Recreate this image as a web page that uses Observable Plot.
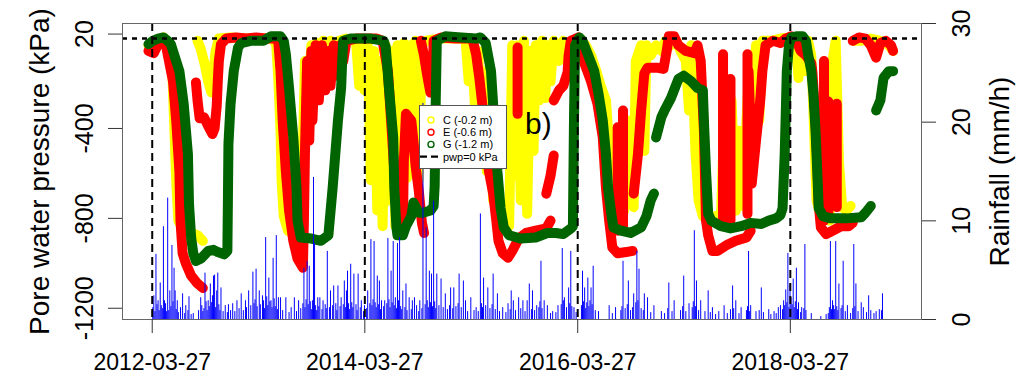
<!DOCTYPE html>
<html><head><meta charset="utf-8">
<script src="https://cdn.jsdelivr.net/npm/d3@7"></script>
<script src="https://cdn.jsdelivr.net/npm/@observablehq/plot@0.6"></script>
<style>
html,body{margin:0;padding:0;background:#fff;}
#chart{position:relative;width:1021px;height:375px;}
</style></head><body><div id="chart"></div>
<script>
// decimal year, kPa ; null = gap in record
const seriesC = [
[2012.20,-30],[2012.27,-10],[2012.34,5],[2012.39,-20],[2012.42,-100],[2012.44,-365],[2012.46,-630],[2012.48,-810],[2012.53,-855],[2012.60,-865],[2012.66,-875],[2012.71,-900],null,
[2012.66,-10],[2012.69,-45],[2012.73,-120],[2012.76,-190],[2012.79,-240],[2012.80,-190],[2012.83,-55],[2012.86,0],[2012.97,5],[2013.12,0],[2013.26,0],[2013.37,0],
[2013.40,-30],[2013.42,-190],[2013.44,-410],[2013.45,-630],[2013.47,-790],[2013.51,-855],[2013.59,-875],[2013.63,-875],
[2013.65,-500],[2013.67,-100],[2013.70,-255],[2013.73,-30],[2013.75,-265],[2013.78,-20],[2013.81,-230],[2013.84,-10],[2013.88,-145],[2013.91,-10],[2013.95,-100],[2013.99,-10],[2014.06,0],
[2014.15,-10],[2014.18,-210],[2014.21,-20],[2014.23,-230],[2014.26,-30],[2014.29,-630],[2014.32,-55],[2014.35,-765],[2014.38,-100],[2014.40,-835],[2014.43,-30],[2014.46,-720],[2014.49,-55],[2014.52,-835],[2014.54,-30],[2014.57,-590],[2014.60,-20],[2014.63,-620],[2014.66,-30],[2014.69,-545],[2014.71,-10],[2014.74,-630],[2014.77,-30],[2014.81,-10],
[2014.95,0],[2015.09,0],[2015.18,0],[2015.21,-190],[2015.24,-20],[2015.27,-320],[2015.30,-55],[2015.32,-365],[2015.35,-145],[2015.38,-590],[2015.41,-320],[2015.44,-720],[2015.47,-545],[2015.49,-790],[2015.53,-820],[2015.59,-835],
[2015.62,-30],[2015.64,-610],[2015.67,-30],[2015.70,-720],[2015.73,-10],[2015.76,-780],[2015.79,-55],[2015.82,-500],[2015.84,-30],[2015.87,-275],[2015.90,-10],[2015.93,-265],[2015.95,-30],[2015.98,-190],[2016.01,-10],[2016.06,-100],[2016.10,-10],[2016.15,-75],[2016.20,-10],[2016.26,0],
[2016.31,-30],[2016.36,-75],[2016.41,-145],[2016.45,-210],[2016.50,-275],[2016.52,-410],[2016.54,-590],[2016.56,-745],[2016.61,-765],[2016.64,-410],[2016.67,-765],[2016.71,-365],[2016.73,-720],[2016.76,-750],
[2016.78,-100],[2016.83,-30],[2016.86,-500],[2016.88,-30],[2016.92,-75],[2016.97,-30],[2017.02,-55],[2017.06,-10],[2017.11,-30],[2017.16,-10],[2017.20,-55],[2017.25,-100],[2017.28,-320],[2017.30,-30],
[2017.32,-230],[2017.34,-500],[2017.37,-720],[2017.41,-790],[2017.47,-810],[2017.53,-790],[2017.58,-800],[2017.62,-230],[2017.65,-790],[2017.68,-275],[2017.72,-765],[2017.75,-410],[2017.79,-745],[2017.82,-365],[2017.85,-100],[2017.88,-320],[2017.91,-30],[2017.94,-365],[2017.97,-10],
[2018.05,-10],[2018.14,0],[2018.24,5],[2018.29,-30],[2018.31,-175],[2018.34,-30],[2018.37,-145],[2018.40,-10],[2018.43,-75],[2018.45,-320],[2018.48,-720],[2018.52,-790],[2018.56,-545],[2018.60,-810],[2018.63,-100],[2018.66,-10],[2018.69,-545],[2018.72,-750],[2018.76,-765],[2018.80,-745],null,
[2018.83,-10],[2018.90,-10],[2018.99,0],[2019.08,-10],[2019.16,-30],[2019.20,-55]
];
const seriesE = [
[2012.20,-55],[2012.25,-65],[2012.29,-25],[2012.34,0],[2012.36,-20],[2012.38,-70],[2012.43,-190],[2012.46,-365],[2012.49,-590],[2012.50,-810],[2012.52,-955],[2012.55,-1000],[2012.60,-1055],[2012.66,-1090],[2012.71,-1110],null,
[2012.645,-195],[2012.66,-275],[2012.68,-355],[2012.72,-350],[2012.76,-390],[2012.80,-425],[2012.82,-400],[2012.84,-300],[2012.85,-190],[2012.86,-100],[2012.88,-25],[2012.93,0],[2013.02,5],[2013.12,0],[2013.21,5],[2013.30,0],[2013.40,0],
[2013.42,-20],[2013.44,-145],[2013.46,-365],[2013.49,-590],[2013.52,-765],[2013.56,-900],[2013.60,-980],[2013.65,-1020],[2013.66,-810],[2013.67,-500],[2013.69,-100],[2013.71,-455],[2013.73,-55],[2013.74,-365],[2013.77,-30],[2013.80,-275],[2013.83,-30],[2013.86,-230],[2013.89,-55],[2013.91,-210],[2013.94,-30],[2013.97,-165],[2014.00,-30],[2014.03,-100],[2014.06,-10],
[2014.15,0],[2014.24,0],[2014.34,0],[2014.40,-10],[2014.45,-145],[2014.48,-365],[2014.51,-590],[2014.54,-755],[2014.57,-855],[2014.59,-865],[2014.60,-545],[2014.62,-335],[2014.67,-365],[2014.69,-455],[2014.71,-565],[2014.74,-675],[2014.77,-820],[2014.79,-865],null,
[2014.76,-10],[2014.79,-75],[2014.82,-165],[2014.85,-240],[2014.87,-225],[2014.88,-10],[2014.95,5],[2015.09,0],[2015.23,0],[2015.25,-10],[2015.28,-70],[2015.31,-175],[2015.34,-300],[2015.37,-440],[2015.40,-590],[2015.44,-690],[2015.47,-810],[2015.49,-900],[2015.53,-955],[2015.58,-975],[2015.62,-945],[2015.68,-890],[2015.75,-865],[2015.84,-855],[2015.94,-845],[2015.98,-810],null,
[2015.94,-690],[2015.98,-610],[2016.01,-520],null,
[2016.01,-275],[2016.06,-230],[2016.10,-210],[2016.14,-150],[2016.15,-75],[2016.17,-10],[2016.24,5],[2016.26,-10],[2016.29,-100],[2016.36,-190],[2016.42,-290],[2016.47,-440],[2016.50,-665],[2016.53,-810],[2016.56,-930],[2016.61,-955],[2016.69,-950],[2016.75,-945],null,
[2016.76,-690],[2016.80,-515],[2016.83,-320],[2016.86,-155],[2016.89,-130],[2016.99,-130],[2017.04,-135],[2017.07,-55],[2017.09,10],[2017.14,10],[2017.18,-30],[2017.25,-55],[2017.33,-65],[2017.36,-30],[2017.39,-100],[2017.42,-410],[2017.44,-810],[2017.46,-875],[2017.50,-945],[2017.55,-945],[2017.63,-920],[2017.72,-900],[2017.82,-885],[2017.86,-855],null,
[2017.84,-145],[2017.86,-410],[2017.87,-645],[2017.91,-455],[2017.95,-275],[2017.97,-145],[2018.00,-30],[2018.07,-10],[2018.14,-20],[2018.19,0],[2018.24,10],[2018.29,-10],[2018.33,-55],[2018.38,-75],[2018.43,-110],[2018.44,-145],[2018.47,-365],[2018.49,-590],[2018.50,-735],[2018.52,-840],[2018.57,-870],[2018.63,-855],[2018.71,-835],[2018.78,-835],[2018.82,-820],null,
[2018.82,-10],[2018.88,5],[2018.94,0],[2018.99,-30],[2019.04,-85],[2019.08,-20],[2019.13,-10],[2019.18,-30],[2019.20,-55],null,
[2015.67,-40],[2015.67,-335],null,[2016.61,-395],[2016.61,-855],null,[2016.66,-320],[2016.66,-855],null,
[2017.60,-70],[2017.60,-810],null,[2017.67,-180],[2017.67,-810],null,[2017.83,-70],[2017.83,-780],null,
[2018.55,-100],[2018.55,-810],null,[2018.59,-280],[2018.59,-790],null,[2018.67,-290],[2018.67,-750]
];
const seriesG = [
[2012.20,-25],[2012.24,-10],[2012.29,0],[2012.34,5],[2012.38,-10],[2012.41,-25],[2012.49,-145],[2012.53,-290],[2012.57,-515],[2012.58,-735],[2012.60,-885],[2012.62,-955],[2012.645,-990],[2012.69,-980],[2012.76,-945],[2012.81,-940],[2012.85,-950],[2012.91,-960],[2012.94,-945],
[2012.945,-720],[2012.95,-470],[2012.97,-290],[2013.00,-145],[2013.04,-40],[2013.07,-20],[2013.16,-10],[2013.28,-10],[2013.35,10],[2013.44,10],[2013.47,-10],[2013.49,-70],[2013.52,-220],[2013.56,-440],[2013.59,-665],[2013.60,-810],[2013.63,-885],[2013.73,-890],[2013.82,-900],[2013.89,-875],
[2013.93,-665],[2013.98,-365],[2014.01,-220],[2014.02,-100],[2014.03,-10],[2014.10,0],[2014.20,0],[2014.29,0],[2014.41,-10],[2014.43,-40],[2014.46,-220],[2014.50,-440],[2014.51,-665],[2014.53,-840],[2014.54,-875],[2014.59,-875],[2014.62,-835],[2014.67,-790],[2014.69,-730],[2014.74,-775],[2014.78,-775],[2014.85,-765],[2014.88,-745],
[2014.89,-655],[2014.90,-275],[2014.91,-10],[2014.99,10],[2015.14,5],[2015.28,0],[2015.32,5],[2015.37,-20],[2015.42,-145],[2015.45,-365],[2015.48,-590],[2015.51,-755],[2015.54,-840],[2015.59,-875],[2015.70,-890],[2015.84,-885],[2015.95,-865],[2016.03,-865],[2016.10,-870],[2016.17,-845],[2016.19,-835],
[2016.20,-365],[2016.21,-30],[2016.25,5],[2016.28,-10],[2016.33,-70],[2016.39,-145],[2016.43,-245],[2016.47,-365],[2016.50,-515],[2016.52,-665],[2016.55,-780],[2016.57,-840],[2016.64,-855],[2016.73,-865],[2016.83,-840],[2016.88,-790],[2016.92,-720],[2016.95,-690],null,
[2016.97,-440],[2017.02,-350],[2017.06,-310],[2017.11,-265],[2017.18,-180],[2017.23,-165],[2017.30,-190],[2017.36,-220],[2017.41,-230],[2017.42,-365],[2017.44,-590],[2017.46,-780],[2017.49,-810],[2017.58,-835],[2017.67,-845],[2017.77,-835],[2017.86,-820],[2017.96,-825],[2018.03,-810],[2018.10,-800],[2018.14,-785],[2018.16,-755],
[2018.18,-515],[2018.19,-335],[2018.20,-145],[2018.22,-30],[2018.24,5],[2018.29,10],[2018.35,10],[2018.38,-10],[2018.40,-70],[2018.43,-145],[2018.45,-245],[2018.47,-410],[2018.49,-635],[2018.50,-755],[2018.54,-790],[2018.61,-800],[2018.76,-800],[2018.90,-795],[2018.94,-775],[2018.99,-745],null,
[2019.04,-320],[2019.08,-275],[2019.11,-175],[2019.16,-145],[2019.20,-145]
];
// decimal year, rainfall mm/h (peaks)
const rainfall = [
[2012.25,2.4],[2012.27,6.6],[2012.29,1.9],[2012.31,3.7],[2012.32,1.4],[2012.34,9.4],[2012.35,1.9],[2012.37,0.8],[2012.38,12.3],[2012.40,2.9],[2012.42,7.5],[2012.44,5.2],[2012.45,2.9],[2012.47,1.9],
[2012.52,2.6],[2012.55,1.4],[2012.58,2.3],[2012.62,0.6],[2012.69,2.2],[2012.71,0.8],[2012.73,4.7],[2012.76,1.9],[2012.78,3.6],[2012.80,2.4],[2012.81,4.4],[2012.82,4.5],[2012.84,2.9],[2012.85,4.7],[2012.88,3.2],[2012.92,1.4],[2012.95,1.5],[2012.99,1.6],
[2013.03,1.9],[2013.07,2.6],[2013.11,1.9],[2013.14,2.9],[2013.18,4.8],[2013.21,5.1],[2013.24,2.9],[2013.27,2.4],[2013.30,8.3],[2013.33,4.2],[2013.35,1.9],[2013.37,6.2],[2013.40,8.5],[2013.42,2.2],[2013.44,2.2],[2013.49,2.2],[2013.54,1.2],[2013.57,2.2],[2013.61,1.9],
[2013.66,5.2],[2013.69,5.9],[2013.71,5.4],[2013.74,1.9],[2013.75,14.4],[2013.76,7.7],[2013.79,2.2],[2013.81,2.2],[2013.84,1.9],[2013.88,6.9],[2013.91,2.9],[2013.94,3.4],[2013.98,3.4],
[2014.01,2.2],[2014.04,3.9],[2014.06,2.9],[2014.07,4.9],[2014.10,5.6],[2014.13,4.6],[2014.17,4.6],[2014.20,1.9],[2014.23,1.4],[2014.26,2.9],[2014.29,8.1],[2014.32,7.9],[2014.35,4.4],[2014.37,3.9],[2014.39,1.9],[2014.42,1.9],[2014.45,8.2],[2014.48,4.9],[2014.50,7.9],[2014.52,2.2],[2014.54,7.7],[2014.56,8.3],
[2014.59,2.9],[2014.62,3.6],[2014.65,2.2],[2014.68,1.9],[2014.70,2.2],[2014.72,1.4],[2014.75,1.9],[2014.78,21.9],[2014.81,9.3],[2014.84,4.9],[2014.86,4.6],[2014.88,12.0],[2014.91,4.6],[2014.95,4.1],[2014.99,2.6],
[2015.04,3.2],[2015.07,3.2],[2015.12,4.6],[2015.16,3.9],[2015.18,1.9],[2015.23,2.2],[2015.28,1.2],[2015.32,10.7],[2015.35,4.2],[2015.39,3.2],[2015.44,4.6],[2015.48,2.6],[2015.53,1.2],[2015.58,1.6],[2015.61,2.9],[2015.63,1.9],[2015.68,2.2],[2015.72,1.9],[2015.76,1.9],[2015.78,3.6],[2015.81,2.9],[2015.85,1.4],[2015.89,5.9],[2015.92,1.9],[2015.95,1.4],
[2016.00,0.8],[2016.05,1.4],[2016.09,7.2],[2016.11,2.2],[2016.15,3.2],[2016.17,6.9],[2016.20,1.2],[2016.28,4.9],[2016.30,3.2],[2016.33,4.2],[2016.36,3.2],[2016.38,5.4],[2016.43,0.8],[2016.53,1.4],[2016.59,1.2],[2016.66,5.9],[2016.71,3.9],[2016.76,2.6],[2016.79,6.9],[2016.81,5.1],[2016.86,2.6],[2016.89,2.2],[2016.95,1.4],
[2017.02,0.8],[2017.09,3.7],[2017.14,1.9],[2017.23,4.4],[2017.28,1.6],[2017.33,9.0],[2017.35,3.9],[2017.39,1.9],[2017.46,2.9],[2017.50,1.2],[2017.56,0.8],[2017.61,1.4],[2017.67,1.0],[2017.69,3.4],[2017.72,1.9],[2017.77,1.2],[2017.84,6.9],[2017.86,1.4],[2017.91,0.8],[2017.96,3.2],
[2018.03,1.0],[2018.08,0.8],[2018.12,1.2],[2018.14,1.4],[2018.17,1.9],[2018.19,3.0],[2018.21,6.7],[2018.23,3.6],[2018.24,2.2],[2018.26,4.1],[2018.29,5.2],[2018.31,1.7],[2018.34,1.2],[2018.37,7.6],[2018.43,0.6],[2018.52,0.3],[2018.57,0.5],
[2018.61,7.9],[2018.63,1.9],[2018.66,7.9],[2018.69,3.6],[2018.73,5.9],[2018.77,1.4],[2018.83,7.6],[2018.85,3.6],[2018.90,1.7],[2018.92,1.2],[2018.97,2.4],[2019.04,0.8],[2019.07,1.0],[2019.10,2.6]
];
// decimal year, rainfall mm/h (dense small showers near the base)
const rainfallSmall = [
[2012.24,1.2],[2012.26,0.8],[2012.28,1.5],[2012.30,0.9],[2012.33,1.1],[2012.36,1.6],[2012.39,0.9],[2012.41,1.3],[2012.43,1.8],[2012.46,1.0],[2012.48,0.7],[2012.50,1.2],[2012.54,0.6],[2012.57,0.9],[2012.60,0.5],
[2012.67,0.9],[2012.70,1.4],[2012.72,1.1],[2012.74,1.8],[2012.75,0.9],[2012.77,1.3],[2012.79,1.7],[2012.83,1.2],[2012.86,1.5],[2012.87,0.9],[2012.90,0.8],[2012.94,0.7],[2012.97,0.9],[2013.01,0.8],[2013.05,1.1],[2013.09,0.9],[2013.12,1.2],
[2013.16,1.4],[2013.19,1.6],[2013.20,2.0],[2013.22,1.3],[2013.25,1.5],[2013.28,1.9],[2013.29,1.1],[2013.31,2.3],[2013.32,1.4],[2013.34,1.8],[2013.36,1.2],[2013.38,2.1],[2013.39,1.3],[2013.41,1.0],[2013.46,0.9],[2013.52,0.7],[2013.59,0.8],
[2013.63,1.1],[2013.65,1.6],[2013.67,1.2],[2013.68,2.0],[2013.70,1.5],[2013.72,1.8],[2013.73,1.0],[2013.77,1.4],[2013.78,0.9],[2013.80,1.3],[2013.83,1.0],[2013.86,1.5],[2013.87,1.1],[2013.90,1.2],[2013.93,1.4],[2013.96,1.6],[2013.97,0.9],[2014.00,1.3],
[2014.03,1.5],[2014.05,1.2],[2014.08,1.6],[2014.09,1.0],[2014.11,1.7],[2014.12,1.2],[2014.15,1.5],[2014.16,0.9],[2014.19,1.2],[2014.22,0.8],[2014.25,1.1],[2014.28,1.6],[2014.30,1.4],[2014.31,2.0],[2014.33,1.7],[2014.34,1.2],[2014.36,1.5],[2014.38,1.0],
[2014.41,1.3],[2014.44,1.6],[2014.46,2.0],[2014.47,1.2],[2014.49,1.7],[2014.51,1.4],[2014.53,1.1],[2014.55,1.9],[2014.57,1.3],[2014.58,1.0],[2014.61,1.2],[2014.63,0.9],[2014.67,1.0],[2014.74,0.8],[2014.77,1.1],[2014.80,1.5],[2014.82,1.9],
[2014.83,1.2],[2014.85,1.7],[2014.87,1.3],[2014.89,1.8],[2014.90,1.1],[2014.93,1.4],[2014.97,1.2],[2015.01,1.0],[2015.03,1.4],[2015.06,1.1],[2015.09,1.3],[2015.11,1.6],[2015.14,1.2],[2015.20,0.8],[2015.26,0.9],[2015.30,0.8],[2015.33,1.6],
[2015.34,1.2],[2015.37,1.4],[2015.41,1.1],[2015.43,1.5],[2015.46,1.0],[2015.50,0.8],[2015.56,0.7],[2015.60,1.0],[2015.65,0.9],[2015.70,1.1],[2015.74,0.8],[2015.80,1.0],[2015.83,0.9],[2015.87,1.2],[2015.88,1.8],[2015.90,1.1],[2015.98,0.6],
[2016.03,0.7],[2016.08,1.5],[2016.10,1.9],[2016.13,1.2],[2016.16,1.6],[2016.18,1.3],[2016.22,0.7],[2016.27,1.4],[2016.29,1.8],[2016.31,1.1],[2016.32,1.7],[2016.34,1.3],[2016.35,1.9],[2016.37,1.5],[2016.40,0.9],[2016.56,0.6],[2016.64,0.9],
[2016.65,1.3],[2016.68,1.1],[2016.70,1.5],[2016.73,0.9],[2016.75,1.2],[2016.78,1.7],[2016.80,1.9],[2016.83,1.1],[2016.85,0.9],[2016.92,0.7],[2017.05,0.6],[2017.08,1.1],[2017.12,0.8],[2017.20,0.9],[2017.22,1.3],[2017.25,0.8],[2017.31,1.2],
[2017.32,1.8],[2017.34,1.3],[2017.37,0.9],[2017.43,0.8],[2017.48,0.7],[2017.53,0.5],[2017.64,0.6],[2017.70,1.1],[2017.75,0.6],[2017.82,0.9],[2017.83,1.3],[2017.85,0.8],[2017.94,0.9],[2017.98,0.7],[2018.05,0.5],[2018.10,0.6],
[2018.16,1.0],[2018.18,1.4],[2018.20,1.7],[2018.22,1.2],[2018.25,1.5],[2018.27,1.2],[2018.28,1.8],[2018.30,1.0],[2018.33,0.7],[2018.36,1.1],[2018.38,0.9],[2018.59,0.6],[2018.60,1.2],[2018.62,1.0],[2018.64,1.4],[2018.65,1.0],[2018.67,1.3],
[2018.68,0.9],[2018.71,1.1],[2018.72,1.4],[2018.75,0.8],[2018.80,0.6],[2018.82,1.1],[2018.84,1.3],[2018.87,0.8],[2018.95,0.7],[2018.99,0.9],[2019.02,0.6],[2019.09,0.9]
];
const xTickLabels = ["2012-03-27","2014-03-27","2016-03-27","2018-03-27"];
const leftTicks = [20,-400,-800,-1200];
const rainTicks = [0,10,20,30];
const legendItems = [
 {label:"C (-0.2 m)", color:"#ffff00", type:"circle"},
 {label:"E (-0.6 m)", color:"#ff0000", type:"circle"},
 {label:"G (-1.2 m)", color:"#006400", type:"circle"},
 {label:"pwp=0 kPa", color:"#000000", type:"dash"}
];

function toDate(y){const Y=Math.floor(y);const s=Date.UTC(Y,0,1),e=Date.UTC(Y+1,0,1);return new Date(s+(y-Y)*(e-s));}
function rows(arr,name){let seg=0;const out=[];for(const p of arr){if(p===null){seg++;continue;}out.push({t:toDate(p[0]),v:p[1],seg:name+seg});}return out;}
const yDomain=[-1250,67];
const rainToY = r => yDomain[0] + r*(yDomain[1]-yDomain[0])/30;
const xTicks = xTickLabels.map(s=>new Date(s+"T00:00:00Z"));
const font = "'Liberation Sans', Arial, Helvetica, sans-serif";
const lineOpts = {x:"t", y:"v", z:"seg", strokeWidth:10, strokeLinecap:"round", strokeLinejoin:"round"};
const rainAll = rainfall.concat(rainfallSmall);

const plot = Plot.plot({
  width:1021, height:375, marginLeft:122, marginRight:100, marginTop:23, marginBottom:56,
  style:{fontFamily:font, background:"#fff", color:"#000", overflow:"visible"},
  x:{type:"utc", domain:[toDate(2011.956), toDate(2019.467)], label:null},
  y:{domain:yDomain, label:null},
  marks:[
    Plot.line(rows(seriesC,"C"), {...lineOpts, stroke:"#ffff00"}),
    Plot.line(rows(seriesE,"E"), {...lineOpts, stroke:"#ff0000"}),
    Plot.line(rows(seriesG,"G"), {...lineOpts, stroke:"#006400"}),
    Plot.ruleX(rainAll, {x:d=>toDate(d[0]), y1:()=>rainToY(0), y2:d=>rainToY(d[1]), stroke:"#0000ff", strokeWidth:1}),
    Plot.ruleX(xTicks, {stroke:"#000", strokeWidth:2, strokeDasharray:"8,5"}),
    Plot.ruleY([0], {stroke:"#000", strokeWidth:2.5, strokeDasharray:"5,5"}),
    Plot.frame({stroke:"#666"}),
    Plot.axisX({ticks:xTicks, tickFormat:d3.utcFormat("%Y-%m-%d"), tickSize:14, tickPadding:20, fontSize:23, stroke:"#333", label:null}),
    Plot.axisY({anchor:"left", ticks:leftTicks, tickSize:14, tickFormat:()=>"", stroke:"#333", label:null}),
    Plot.axisY({anchor:"right", ticks:rainTicks.map(rainToY), tickSize:14, tickFormat:()=>"", stroke:"#333", label:null}),
    Plot.text(leftTicks, {y:d=>d, text:d=>String(d), frameAnchor:"left", dx:-38, rotate:-90, fontSize:25, textAnchor:"middle", lineAnchor:"middle"}),
    Plot.text(rainTicks, {y:d=>rainToY(d), text:d=>String(d), frameAnchor:"right", dx:40, rotate:-90, fontSize:25, textAnchor:"middle", lineAnchor:"middle"}),
    Plot.text(["Pore water pressure (kPa)"], {text:d=>d, frameAnchor:"left", dx:-82, rotate:-90, fontSize:28, textAnchor:"middle", lineAnchor:"middle"}),
    Plot.text(["Rainfall (mm/h)"], {text:d=>d, frameAnchor:"right", dx:79, rotate:-90, fontSize:28, textAnchor:"middle", lineAnchor:"middle"})
  ]
});
document.getElementById("chart").appendChild(plot);

// legend and panel tag
const svg = d3.select(plot);
const lg = svg.append("g").attr("font-family", font).attr("text-anchor","start");
lg.append("rect").attr("x",419.5).attr("y",105.5).attr("width",87).attr("height",63).attr("fill","#fff").attr("stroke","#555");
legendItems.forEach((d,i)=>{
  const cy = 120 + i*12.2;
  if(d.type==="circle") lg.append("circle").attr("cx",431).attr("cy",cy).attr("r",3).attr("fill","none").attr("stroke",d.color).attr("stroke-width",1.4);
  else lg.append("line").attr("x1",420).attr("x2",438).attr("y1",cy).attr("y2",cy).attr("stroke",d.color).attr("stroke-width",2.2).attr("stroke-dasharray","7,4");
  lg.append("text").attr("x",443).attr("y",cy+4).attr("font-size",11).attr("fill","#000").attr("text-anchor","start").text(d.label);
});
svg.append("text").attr("x",525).attr("y",134).attr("font-family",font).attr("font-size",30).attr("fill","#000").attr("text-anchor","start").text("b)");
</script></body></html>
